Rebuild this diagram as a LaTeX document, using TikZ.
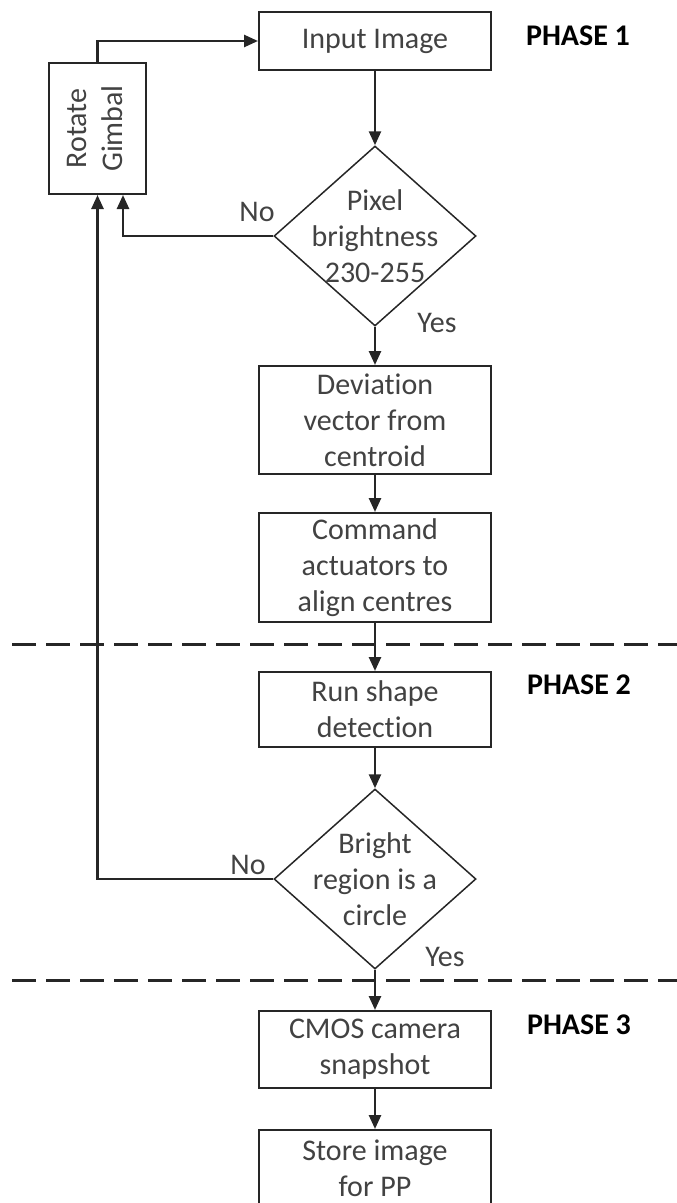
\documentclass[tikz,border=0pt]{standalone}
\usepackage{fontspec}
\setmainfont[Ligatures=NoCommon]{Carlito}
\usepackage{graphicx}
\usetikzlibrary{shapes.geometric,arrows.meta,calc}
\definecolor{ln}{HTML}{262626}
\definecolor{txt}{HTML}{424242}
\begin{document}
\begin{tikzpicture}[x=1pt,y=-1pt,
  font=\fontsize{30}{36}\selectfont,
  every node/.style={text=txt},
  box/.style={draw=ln, line width=2pt, rectangle, minimum width=232pt, inner sep=0pt, align=center, fill=white},
  dia/.style={draw=ln, line width=1.5pt, diamond, minimum width=202pt, minimum height=180pt, inner sep=0pt},
  arr/.style={draw=ln, line width=2.5pt, -{Triangle[length=14pt,width=12pt]}},
  lbl/.style={inner sep=0pt},
  sep/.style={draw=ln, line width=3pt, dash pattern=on 24pt off 10pt},
  phase/.style={inner sep=0pt, font=\fontsize{30}{36}\selectfont\bfseries, text=black}
]
\useasboundingbox (0,0) rectangle (677,1203);
\clip (0,0) rectangle (677,1203);

% separators
\coordinate (s1a) at (12,644);
\coordinate (s1b) at (677,644);
\coordinate (s2a) at (12,980);
\coordinate (s2b) at (677,980);
\draw[sep] (s1a) -- (s1b);
\draw[sep] (s2a) -- (s2b);

% nodes
\node[box, minimum height=58pt] (in) at (375,41) {Input Image};
\node[dia, label={[align=center]center:Pixel\\brightness\\230-255}] (d1) at (375,236) {};
\node[box, minimum height=108pt] (dev) at (375,420) {Deviation\\vector from\\centroid};
\node[box, minimum height=109pt] (cmd) at (375,567.5) {Command\\actuators to\\align centres};
\node[box, minimum height=75pt] (run) at (375,709.5) {Run shape\\detection};
\node[dia, label={[align=center]center:Bright\\region is a\\circle}] (d2) at (375,879) {};
\node[box, minimum height=77pt] (cmos) at (375,1049.5) {CMOS camera\\snapshot};
\node[box, minimum height=77pt] (store) at (375,1168.5) {Store image\\for PP};
\node[box, minimum width=97pt, minimum height=131pt] (rg) at (97.5,128.5)
  {\rotatebox{90}{\begin{tabular}{@{}c@{}}Rotate\\Gimbal\end{tabular}}};

% labels
\node[lbl] (no1) at (257,212) {No};
\node[lbl] (yes1) at (437,323) {Yes};
\node[lbl] (no2) at (248,865) {No};
\node[lbl] (yes2) at (445,957) {Yes};
\node[phase] (p1) at (578,36) {PHASE 1};
\node[phase] (p2) at (579,685) {PHASE 2};
\node[phase] (p3) at (579,1025) {PHASE 3};

% connectors
\draw[arr] (in.south) -- (d1.north);
\draw[arr] (d1.south) -- (dev.north);
\draw[arr] (dev.south) -- (cmd.north);
\draw[arr] (cmd.south) -- (run.north);
\draw[arr] (run.south) -- (d2.north);
\draw[arr] (d2.south) -- (cmos.north);
\draw[arr] (cmos.south) -- (store.north);
\draw[arr] (d1.west) -| ($(rg.south)+(25.5,0)$);
\draw[arr] (d2.west) -| (rg.south);
\draw[arr] (rg.north) |- (in.west);
\end{tikzpicture}
\end{document}
